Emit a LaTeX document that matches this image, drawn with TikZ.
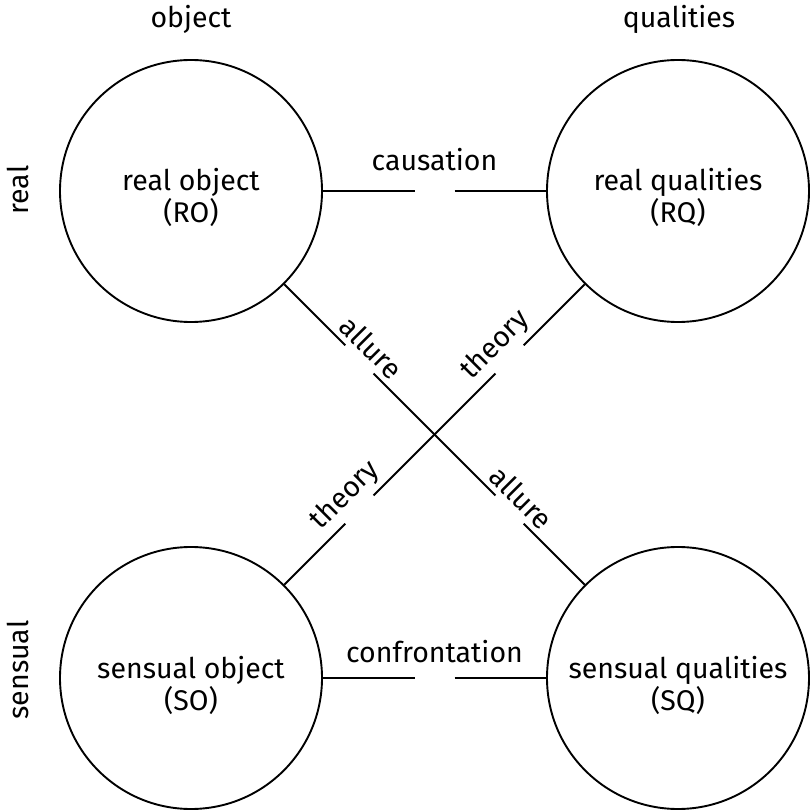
\documentclass[tikz,border=0pt]{standalone}
\usepackage{fontspec}
\setmainfont{Fira Sans}
\usetikzlibrary{calc}
\begin{document}
\begin{tikzpicture}[x=1pt,y=1pt,
  circ/.style={draw, circle, minimum size=262pt, inner sep=0pt, line width=1.9pt},
  conn/.style={line width=1.9pt},
  txt/.style={font=\fontsize{28.5}{34}\selectfont, inner sep=0pt},
  diag/.style={txt, sloped, above=6pt}]
\useasboundingbox (0,0) rectangle (812,-810);
% circles
\node[circ] (RO) at (191,-191) {};
\node[circ] (RQ) at (678,-191) {};
\node[circ] (SO) at (191,-678) {};
\node[circ] (SQ) at (678,-678) {};
% circle texts
\node[txt, anchor=base] (ROa) at (191,-191) {real object};
\node[txt, anchor=base] (ROb) at (191,-223) {(RO)};
\node[txt, anchor=base] (RQa) at (678,-191) {real qualities};
\node[txt, anchor=base] (RQb) at (678,-223) {(RQ)};
\node[txt, anchor=base] (SOa) at (191,-678) {sensual object};
\node[txt, anchor=base] (SOb) at (191,-710) {(SO)};
\node[txt, anchor=base] (SQa) at (678,-678) {sensual qualities};
\node[txt, anchor=base] (SQb) at (678,-710) {(SQ)};
% headings
\node[txt, anchor=base] (hobj) at (191,-28) {object};
\node[txt, anchor=base] (hqual) at (679,-28) {qualities};
\node[txt, anchor=base, rotate=90] (hreal) at (28,-190) {real};
\node[txt, anchor=base, rotate=90] (hsens) at (28,-670) {sensual};
% horizontal connectors with gaps
\path (RO) -- (RQ)
  coordinate[pos=0.5] (cm)
  node[txt, midway, above=20pt] (lcaus) {causation};
\coordinate (c1) at ($(cm)+(-20,0)$);
\coordinate (c2) at ($(cm)+(20,0)$);
\draw[conn] (RO) -- (c1);
\draw[conn] (c2) -- (RQ);
\path (SO) -- (SQ)
  coordinate[pos=0.5] (fm)
  node[txt, midway, above=15pt] (lconf) {confrontation};
\coordinate (f1) at ($(fm)+(-20,0)$);
\coordinate (f2) at ($(fm)+(20,0)$);
\draw[conn] (SO) -- (f1);
\draw[conn] (f2) -- (SQ);
% diagonal: allure (RO - SQ)
\path (RO) -- (SQ)
  coordinate[pos=0.203] (a1) coordinate[pos=0.297] (a2)
  coordinate[pos=0.703] (a3) coordinate[pos=0.797] (a4)
  node[diag, pos=0.25] (lall1) {allure}
  node[diag, pos=0.75] (lall2) {allure};
\draw[conn] (RO) -- (a1);
\draw[conn] (a2) -- (a3);
\draw[conn] (a4) -- (SQ);
% diagonal: theory (RQ - SO)
\path (RQ) -- (SO)
  coordinate[pos=0.203] (t1) coordinate[pos=0.297] (t2)
  coordinate[pos=0.703] (t3) coordinate[pos=0.797] (t4)
  node[diag, pos=0.25] (lth1) {theory}
  node[diag, pos=0.75] (lth2) {theory};
\draw[conn] (RQ) -- (t1);
\draw[conn] (t2) -- (t3);
\draw[conn] (t4) -- (SO);
\end{tikzpicture}
\end{document}
